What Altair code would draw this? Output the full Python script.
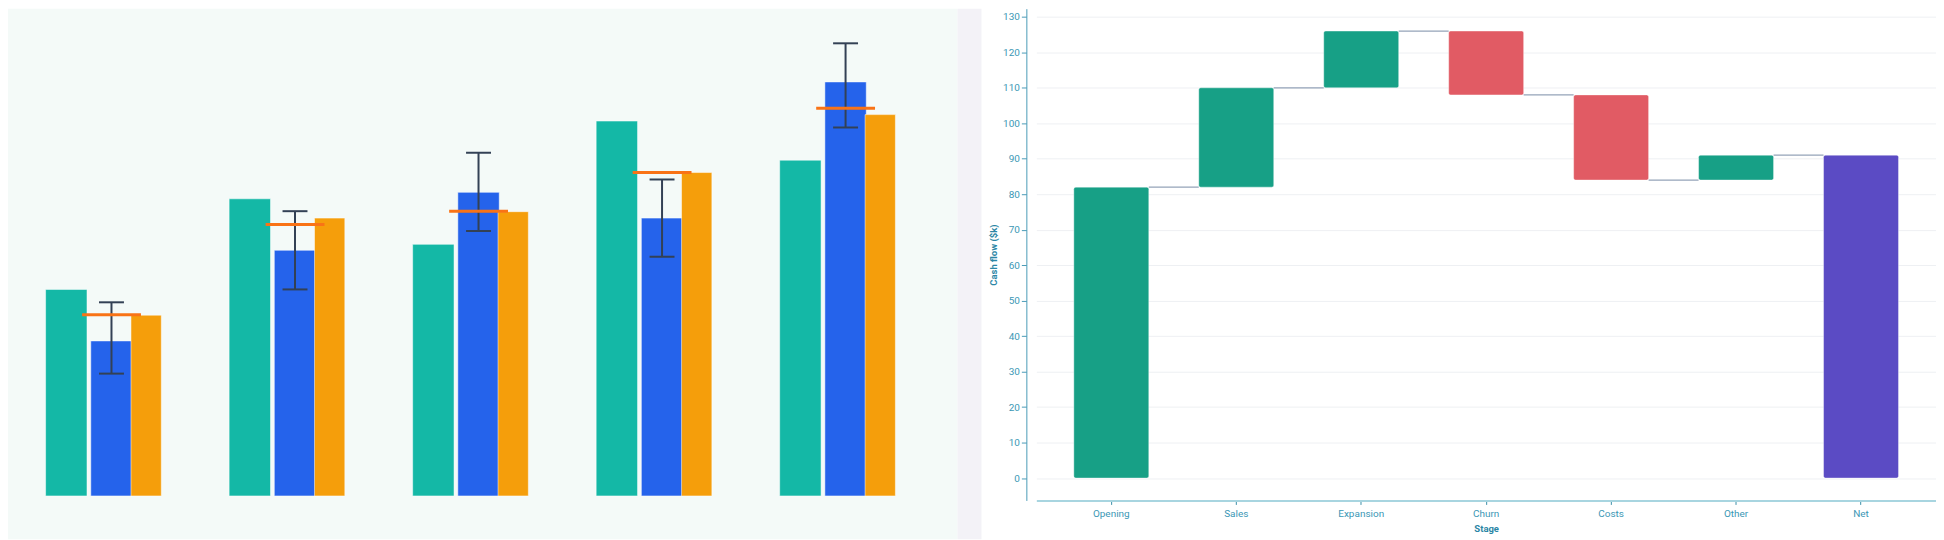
import altair as alt
import pandas as pd

# left panel: grouped bars with error bars and target marks
groups = ["G1", "G2", "G3", "G4", "G5"]
teal_vals = [41.7, 60.0, 50.8, 75.7, 67.8]
blue_vals = [31.3, 49.6, 61.3, 56.1, 83.6]
amber_vals = [36.5, 56.1, 57.4, 65.3, 77.0]
target_vals = [36.6, 54.8, 57.5, 65.3, 78.3]
err_low = [24.7, 41.7, 53.5, 48.3, 74.4]
err_high = [39.1, 57.5, 69.3, 63.9, 91.4]

# right panel: waterfall
stages = ["Opening", "Sales", "Expansion", "Churn", "Costs", "Other", "Net"]
amounts = [82, 28, 16, -18, -24, 7, 91]
kinds = ["up", "up", "up", "down", "down", "up", "total"]

bar_style = dict(stroke="white", strokeWidth=1, strokeOpacity=0.5)

pair_df = pd.DataFrame({
    "group": groups * 2,
    "series": ["Teal"] * 5 + ["Blue"] * 5,
    "value": teal_vals + blue_vals,
})
grp_df = pd.DataFrame({
    "group": groups, "amber": amber_vals, "target": target_vals,
    "lo": err_low, "hi": err_high,
})

x_grp = alt.X("group:N", axis=None,
              scale=alt.Scale(domain=groups, paddingInner=0, paddingOuter=0.087, align=0))
y_sc = alt.Scale(domain=[-8.76, 98.39], nice=False, zero=False)

pair = alt.Chart(pair_df).mark_bar(**bar_style).encode(
    x=x_grp,
    xOffset=alt.XOffset("series:N", scale=alt.Scale(domain=["Teal", "Blue"], range=[37.7, 124.5],
                                                     paddingInner=0.084, paddingOuter=0)),
    y=alt.Y("value:Q", axis=None, scale=y_sc),
    color=alt.Color("series:N", scale=alt.Scale(domain=["Teal", "Blue"], range=["#14b8a6", "#2563eb"]),
                    legend=None),
)
amber = alt.Chart(grp_df).mark_bar(width=30.4, xOffset=46.5, color="#f59e0b", **bar_style).encode(
    x=x_grp, y=alt.Y("amber:Q", axis=None, scale=y_sc))
err = alt.Chart(grp_df).mark_rule(xOffset=11.75, color="#334155", strokeWidth=2).encode(
    x=x_grp, y=alt.Y("lo:Q", axis=None, scale=y_sc), y2="hi:Q")
cap_lo = alt.Chart(grp_df).mark_tick(size=25, thickness=2, xOffset=11.75, color="#334155", opacity=1).encode(
    x=x_grp, y=alt.Y("lo:Q", axis=None, scale=y_sc))
cap_hi = alt.Chart(grp_df).mark_tick(size=25, thickness=2, xOffset=11.75, color="#334155", opacity=1).encode(
    x=x_grp, y=alt.Y("hi:Q", axis=None, scale=y_sc))
target = alt.Chart(grp_df).mark_tick(size=59, thickness=3, xOffset=11.8, color="#f97316", opacity=1).encode(
    x=x_grp, y=alt.Y("target:Q", axis=None, scale=y_sc))

left = alt.layer(pair, amber, err, cap_lo, cap_hi, target).properties(
    width=952, height=532, view=alt.ViewBackground(fill="#f4faf8", stroke=None))

spacer = alt.Chart(pd.DataFrame({"v": [0]})).mark_point(opacity=0).encode(
    x=alt.X("v:Q", axis=None), y=alt.Y("v:Q", axis=None)
).properties(width=24, height=532, view=alt.ViewBackground(fill="#f3f2f7", stroke=None))

# waterfall table
starts, ends, running = [], [], 0
for amt, kind in zip(amounts, kinds):
    if kind == "total":
        starts.append(0)
        ends.append(amt)
    else:
        starts.append(running)
        ends.append(running + amt)
    running = ends[-1]
wf_df = pd.DataFrame({"stage": stages, "start": starts, "end": ends, "kind": kinds})
conn_df = pd.DataFrame({"stage": stages[:-1], "next": stages[1:], "level": ends[:-1]})

lab_col = "#3b97b5"
tit_col = "#2b86a5"
x_axis = alt.Axis(title="Stage", labelAngle=0, tickSize=4, labelPadding=4, titlePadding=5,
                  domainColor="#a8d5e0", domainWidth=2, tickColor="#3b8fa8",
                  labelColor=lab_col, titleColor=tit_col, labelFont="Roboto", titleFont="Roboto",
                  labelFontSize=10, titleFontSize=9.5, titleFontWeight="bold", gridColor="#eef0f3")
y_axis = alt.Axis(title="Cash flow ($k)", values=list(range(0, 131, 10)), offset=10, tickSize=5,
                  labelPadding=2, titlePadding=4, domainColor="#4a9bb7", tickColor="#4a9bb7",
                  labelColor=lab_col, titleColor=tit_col, labelFont="Roboto", titleFont="Roboto",
                  labelFontSize=10, titleFontSize=9.5, titleFontWeight="bold", gridColor="#eef0f3")
x_sc = alt.Scale(domain=stages, paddingInner=0.4, paddingOuter=0.3)
wf_y = alt.Scale(domain=[-6.3, 132.3], nice=False, zero=False)

conn = alt.Chart(conn_df).mark_rule(color="#94a3b8", strokeWidth=1.2).encode(
    x=alt.X("stage:N", scale=x_sc, axis=x_axis, bandPosition=1),
    x2=alt.X2("next", bandPosition=0),
    y=alt.Y("level:Q", scale=wf_y, axis=y_axis),
)
wf_bars = alt.Chart(wf_df).mark_bar(cornerRadius=2, stroke="white", strokeWidth=1, strokeOpacity=0.4).encode(
    x=alt.X("stage:N", scale=x_sc, axis=x_axis),
    y=alt.Y("start:Q", scale=wf_y, axis=y_axis),
    y2="end:Q",
    color=alt.Color("kind:N", scale=alt.Scale(domain=["up", "down", "total"],
                                              range=["#17a086", "#e15b64", "#5b4bc4"]), legend=None),
)
right = alt.layer(conn, wf_bars).properties(width=902, height=493)

chart = alt.hconcat(alt.hconcat(left, spacer, spacing=0), right, spacing=7).properties(
    padding=0, background="white"
).resolve_scale(color="independent").configure_view(stroke=None)

chart.save("out.html", embed_options={"renderer": "svg", "actions": False})
